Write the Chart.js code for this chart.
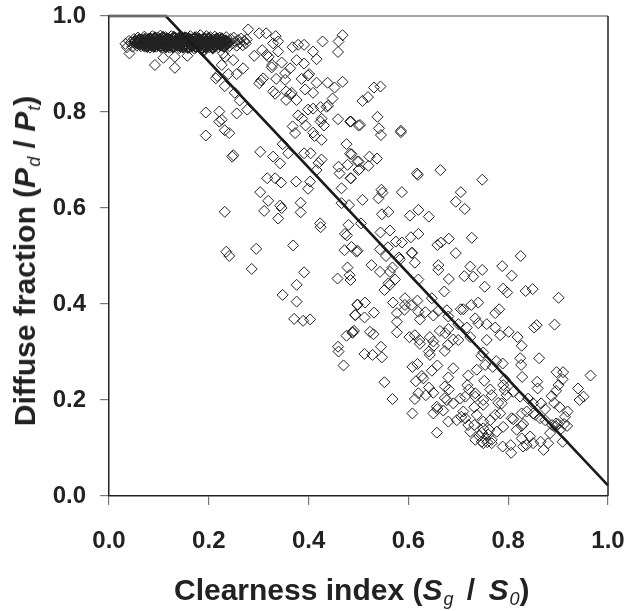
<!DOCTYPE html>
<html><head><meta charset="utf-8">
<script src="https://cdn.jsdelivr.net/npm/chart.js@4"></script>
<style>
html,body{margin:0;padding:0;background:#fff;overflow:hidden}
#wrap{position:relative;width:626px;height:611px}
canvas{position:absolute;left:0;top:0}
.t{position:absolute;font:bold 30px "Liberation Sans",Arial,sans-serif;color:#222;white-space:nowrap;line-height:1}
.t i{font-style:italic}
.t sub{font-size:18px;font-style:italic;font-weight:normal;vertical-align:-5px;line-height:0;margin-left:1px}
.t .g{margin:0 5px}
#xt{left:174px;top:575px}
#yt{left:25px;top:261px;transform:translate(-50%,-50%) rotate(-90deg)}
</style></head><body>
<div id="wrap"><canvas id="c" width="626" height="611"></canvas>
<div class="t" id="xt">Clearness index (<i>S<sub>g</sub></i><span class="g"> / </span><i>S<sub>0</sub></i>)</div>
<div class="t" id="yt">Diffuse fraction (<i>P<sub>d</sub></i> / <i>P<sub>t</sub></i>)</div>
</div>
<script>
const xTicks=[0,0.2,0.4,0.6,0.8,1.0];
const yTicks=[0,0.2,0.4,0.6,0.8,1.0];
const modelX=[0,0.114,1.0];
const modelY=[1.0,1.0,0.022];
const overcastCluster=[[.041,.922],[.033,.942],[.036,.935],[.040,.948],[.044,.945],[.047,.936],[.050,.952],[.053,.942],[.056,.938],[.058,.955],[.061,.946],[.064,.937],[.066,.951],[.069,.943],[.071,.957],[.073,.936],[.076,.948],[.078,.941],[.080,.953],[.082,.934],[.085,.946],[.087,.958],[.089,.940],[.091,.951],[.093,.945],[.095,.936],[.097,.955],[.099,.948],[.101,.941],[.103,.959],[.105,.934],[.107,.951],[.109,.944],[.111,.938],[.113,.956],[.115,.947],[.117,.940],[.119,.953],[.121,.934],[.123,.946],[.125,.958],[.127,.941],[.129,.950],[.131,.936],[.133,.955],[.135,.945],[.137,.939],[.139,.952],[.141,.933],[.143,.947],[.145,.957],[.147,.941],[.149,.950],[.151,.936],[.153,.944],[.155,.955],[.157,.940],[.159,.949],[.161,.934],[.163,.958],[.165,.945],[.167,.939],[.169,.952],[.171,.932],[.173,.947],[.175,.956],[.177,.941],[.179,.950],[.181,.936],[.183,.960],[.185,.944],[.187,.938],[.189,.953],[.191,.930],[.193,.947],[.195,.958],[.197,.941],[.199,.950],[.201,.935],[.203,.956],[.205,.944],[.207,.938],[.210,.951],[.212,.957],[.214,.942],[.217,.948],[.219,.935],[.222,.955],[.224,.945],[.227,.938],[.229,.950],[.232,.942],[.235,.956],[.238,.947],[.241,.937],[.244,.952],[.247,.943],[.250,.955],[.253,.946],[.256,.938],[.259,.950],[.262,.944],[.265,.953],[.268,.939],[.271,.948],[.274,.943],[.276,.951]];
const overcastCore=[[.052,.947],[.057,.944],[.060,.950],[.063,.942],[.067,.947],[.070,.939],[.072,.951],[.075,.944],[.077,.937],[.079,.949],[.081,.943],[.083,.952],[.084,.940],[.086,.948],[.088,.944],[.090,.937],[.092,.954],[.094,.942],[.096,.949],[.098,.940],[.100,.945],[.102,.951],[.104,.938],[.106,.946],[.108,.955],[.110,.941],[.112,.949],[.114,.936],[.116,.952],[.118,.944],[.120,.939],[.122,.950],[.124,.942],[.126,.948],[.128,.936],[.130,.955],[.132,.943],[.134,.949],[.136,.941],[.138,.946],[.140,.953],[.142,.938],[.144,.950],[.146,.943],[.148,.936],[.150,.948],[.152,.954],[.154,.941],[.156,.947],[.158,.935],[.160,.952],[.162,.943],[.164,.950],[.166,.938],[.168,.946],[.170,.941],[.172,.954],[.174,.936],[.176,.948],[.178,.943],[.180,.952],[.182,.940],[.184,.947],[.186,.933],[.188,.945],[.190,.940],[.192,.952],[.194,.936],[.196,.946],[.198,.942],[.200,.953],[.202,.940],[.204,.948],[.206,.945],[.208,.934],[.211,.946],[.213,.938],[.216,.952],[.218,.943],[.221,.948],[.223,.940],[.226,.952],[.228,.945],[.231,.937],[.234,.948],[.237,.942]];
const upperPoints=[[.279,.972],[.301,.964],[.315,.964],[.334,.958],[.339,.947],[.329,.943],[.468,.960],[.460,.947],[.428,.947],[.459,.925],[.368,.935],[.379,.940],[.391,.940],[.409,.926],[.416,.910],[.391,.901],[.376,.908],[.291,.917],[.307,.929],[.316,.919],[.320,.915],[.339,.926],[.346,.903],[.326,.893],[.327,.898],[.363,.891],[.353,.881],[.335,.869],[.353,.867],[.309,.870],[.301,.860],[.305,.866],[.399,.876],[.401,.879],[.386,.869],[.416,.861],[.438,.861],[.452,.851],[.468,.863],[.393,.847],[.409,.840],[.329,.843],[.333,.838],[.355,.843],[.363,.837],[.366,.840],[.355,.825],[.376,.825],[.448,.828],[.436,.811],[.439,.813],[.424,.810],[.409,.807],[.399,.805],[.379,.793],[.387,.786],[.394,.772],[.424,.780],[.426,.786],[.431,.772],[.459,.785],[.483,.780],[.500,.772],[.368,.770],[.373,.756],[.409,.757],[.412,.750],[.426,.742],[.348,.733],[.359,.714],[.391,.714],[.404,.714],[.476,.733],[.483,.713],[.303,.717],[.329,.707],[.343,.693],[.426,.701],[.420,.694],[.416,.679],[.460,.686],[.478,.690],[.500,.697],[.500,.679],[.462,.672],[.484,.662],[.317,.662],[.333,.662],[.345,.653],[.375,.655],[.403,.655],[.399,.640],[.466,.641],[.303,.633],[.319,.615],[.343,.605],[.346,.600],[.384,.611],[.466,.610],[.481,.606],[.311,.594],[.384,.591],[.339,.578],[.423,.568],[.424,.560],[.480,.565],[.473,.546],[.477,.543],[.369,.522],[.295,.515],[.235,.509],[.241,.500],[.472,.512],[.486,.519],[.496,.509],[.194,.799],[.221,.801],[.221,.780],[.226,.784],[.232,.762],[.241,.756],[.256,.797],[.277,.805],[.194,.751],[.247,.707],[.249,.710],[.232,.592],[.214,.870],[.217,.875],[.232,.854],[.252,.840],[.262,.824],[.239,.879],[.256,.879],[.269,.891],[.249,.908],[.226,.898],[.229,.922],[.233,.915],[.189,.926],[.132,.892],[.092,.898],[.109,.913],[.132,.915],[.157,.917]];
const middlePoints=[[.544,.853],[.531,.851],[.519,.831],[.508,.823],[.538,.790],[.503,.773],[.485,.780],[.541,.766],[.545,.752],[.585,.761],[.585,.758],[.486,.712],[.498,.697],[.522,.707],[.537,.703],[.520,.688],[.502,.681],[.485,.662],[.617,.672],[.619,.669],[.664,.679],[.748,.659],[.546,.638],[.548,.632],[.587,.633],[.705,.633],[.508,.617],[.540,.620],[.695,.613],[.713,.598],[.560,.592],[.547,.587],[.620,.596],[.603,.584],[.641,.582],[.505,.568],[.563,.553],[.544,.549],[.620,.546],[.605,.539],[.575,.530],[.587,.528],[.681,.536],[.665,.528],[.658,.523],[.727,.538],[.695,.506],[.825,.500],[.498,.511],[.543,.514],[.559,.518],[.607,.507],[.555,.500],[.581,.497],[.286,.473],[.391,.466],[.376,.440],[.348,.419],[.376,.405],[.371,.369],[.389,.365],[.403,.368],[.478,.476],[.458,.453],[.482,.460],[.484,.450],[.498,.398],[.494,.377],[.476,.334],[.488,.340],[.491,.344],[.459,.311],[.460,.301],[.470,.272],[.526,.481],[.543,.467],[.563,.467],[.568,.476],[.573,.451],[.560,.443],[.563,.440],[.552,.429],[.583,.493],[.613,.486],[.607,.506],[.660,.481],[.660,.471],[.620,.451],[.681,.452],[.712,.458],[.730,.457],[.724,.478],[.748,.471],[.753,.436],[.788,.479],[.807,.459],[.790,.432],[.798,.424],[.835,.427],[.849,.431],[.901,.413],[.672,.426],[.647,.412]];
const clearPoints=[[.740,.403],[.726,.398],[.710,.389],[.705,.389],[.782,.389],[.774,.381],[.498,.399],[.513,.403],[.493,.377],[.512,.372],[.531,.382],[.569,.403],[.593,.412],[.593,.398],[.618,.407],[.607,.398],[.577,.381],[.592,.388],[.620,.384],[.634,.383],[.650,.376],[.623,.368],[.577,.363],[.660,.386],[.677,.387],[.680,.374],[.700,.358],[.717,.351],[.724,.331],[.734,.370],[.740,.360],[.757,.358],[.774,.351],[.801,.342],[.784,.335],[.819,.331],[.827,.313],[.757,.325],[.857,.356],[.852,.351],[.893,.357],[.488,.342],[.523,.342],[.530,.337],[.577,.341],[.602,.331],[.613,.335],[.622,.325],[.623,.317],[.643,.331],[.650,.322],[.651,.313],[.663,.344],[.680,.348],[.674,.339],[.690,.326],[.700,.325],[.679,.315],[.673,.302],[.641,.301],[.643,.294],[.545,.311],[.512,.296],[.528,.294],[.547,.289],[.750,.299],[.746,.292],[.776,.281],[.789,.276],[.754,.273],[.769,.269],[.824,.287],[.826,.273],[.862,.287],[.608,.269],[.618,.275],[.658,.272],[.647,.261],[.690,.266],[.737,.263],[.720,.251],[.752,.240],[.627,.250],[.630,.245],[.615,.239],[.680,.247],[.552,.237],[.793,.243],[.828,.248],[.858,.238],[.859,.224],[.897,.258],[.910,.258],[.909,.243],[.901,.231],[.896,.219],[.965,.251],[.940,.224],[.951,.207],[.943,.200],[.887,.208],[.892,.194],[.903,.185],[.919,.176],[.914,.165],[.641,.226],[.650,.215],[.673,.228],[.681,.222],[.718,.231],[.721,.222],[.734,.214],[.764,.222],[.767,.210],[.790,.231],[.793,.221],[.780,.194],[.787,.193],[.797,.210],[.810,.217],[.824,.207],[.840,.203],[.850,.193],[.866,.193],[.874,.181],[.854,.169],[.620,.214],[.635,.210],[.613,.202],[.673,.204],[.677,.200],[.690,.193],[.704,.203],[.714,.207],[.734,.207],[.750,.200],[.750,.190],[.732,.185],[.568,.202],[.608,.172],[.650,.172],[.658,.181],[.670,.178],[.657,.186],[.680,.155],[.697,.158],[.706,.165],[.710,.176],[.714,.162],[.737,.169],[.774,.169],[.784,.172],[.764,.158],[.807,.162],[.810,.160],[.827,.172],[.837,.176],[.850,.172],[.864,.162],[.874,.158],[.888,.148],[.896,.151],[.904,.138],[.918,.146],[.884,.131],[.909,.113],[.880,.110],[.871,.096],[.865,.113],[.850,.110],[.837,.106],[.830,.103],[.844,.124],[.827,.146],[.830,.150],[.817,.138],[.827,.120],[.805,.106],[.806,.090],[.789,.103],[.790,.144],[.777,.134],[.762,.138],[.750,.155],[.750,.141],[.747,.132],[.724,.134],[.720,.148],[.732,.148],[.734,.117],[.747,.113],[.754,.120],[.767,.117],[.767,.110],[.657,.132],[.742,.125],[.758,.112],[.750,.110],[.760,.128],[.895,.145],[.900,.150],[.912,.150]];

const toXY=a=>a.map(p=>({x:p[0],y:p[1]}));
const frame={id:'frame',afterDatasetsDraw(ch){
  const {ctx,chartArea:a}=ch;ctx.save();
  ctx.strokeStyle='#888';ctx.lineWidth=1.5;ctx.beginPath();ctx.moveTo(a.left,a.top);ctx.lineTo(a.right,a.top);ctx.stroke();
  ctx.strokeStyle='#222';ctx.lineWidth=1.5;ctx.beginPath();ctx.moveTo(a.right,a.top);ctx.lineTo(a.right,a.bottom);ctx.stroke();
  ctx.restore();
}};
const tickFont={family:'"Liberation Sans",Arial,sans-serif',size:24,weight:'bold'};
const axis=(vals,fit,pad)=>({
  type:'linear',min:0,max:1,
  afterBuildTicks(s){s.ticks=vals.map(v=>({value:v}));},
  afterFit:s=>{fit(s);s.paddingTop=0;s.paddingBottom=0;s.paddingLeft=0;s.paddingRight=0;},
  border:{display:true,color:'#222',width:1.5},
  grid:{drawOnChartArea:false,drawTicks:true,tickLength:9,color:'#777',lineWidth:1.2},
  ticks:{color:'#222',font:tickFont,padding:pad,maxRotation:0,callback:v=>v.toFixed(1)}
});
const marks=(label,pts,w,order)=>({label,data:toXY(pts),pointStyle:'rectRot',pointRadius:5.5,pointBorderWidth:w,pointBorderColor:'#222',pointBackgroundColor:'rgba(0,0,0,0)',order});
new Chart(document.getElementById('c'),{
  type:'scatter',
  data:{datasets:[
    {label:'Model',type:'line',data:modelX.map((x,i)=>({x,y:modelY[i]})),borderColor:'#1a1a1a',borderWidth:2.6,pointRadius:0,fill:false,tension:0,clip:false,order:0},
    marks('Overcast core',overcastCore,1.8,1),
    marks('Observations',[...overcastCluster,...upperPoints,...middlePoints,...clearPoints],1,2)
  ]},
  options:{
    responsive:false,animation:false,
    layout:{padding:{left:0,top:16,right:18,bottom:0}},
    plugins:{legend:{display:false},tooltip:{enabled:false},title:{display:false}},
    scales:{
      x:axis(xTicks,s=>{s.height=115;},22),
      y:axis(yTicks,s=>{s.width=109;},14)
    }
  },
  plugins:[frame]
});
</script></body></html>
